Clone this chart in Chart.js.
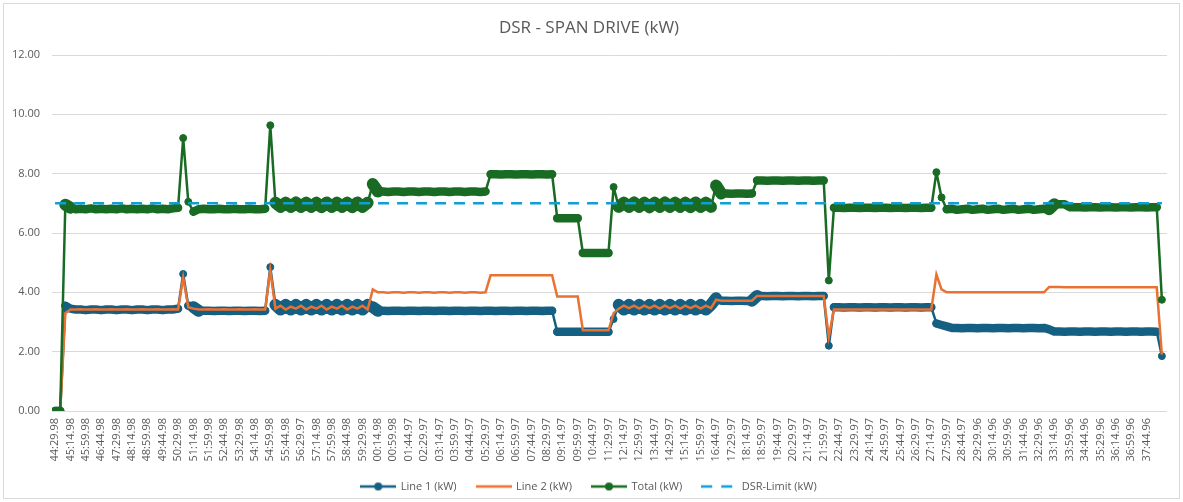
<!DOCTYPE html>
<html>
<head>
<meta charset="utf-8">
<title>DSR - SPAN DRIVE (kW)</title>
<script src="https://cdn.jsdelivr.net/npm/chart.js@4.4.1/dist/chart.umd.min.js"></script>
<style>
  html, body { margin: 0; padding: 0; background: #fff; }
  #wrap { position: relative; width: 1183px; height: 502px; }
  #frame { position: absolute; left: 3px; top: 3px; width: 1175px; height: 494px; border: 1px solid #d9d9d9; pointer-events: none; }
  canvas { position: absolute; left: 0; top: 0; }
</style>
</head>
<body>
<div id="wrap">
  <canvas id="chart-dsr" width="1183" height="502"></canvas>
  <div id="frame"></div>
</div>
<script>
// axis labels (one every 45 s), readings are every 15 s
const tickLabels = [
  "44:29.98","45:14.98","45:59.98","46:44.98","47:29.98","48:14.98","48:59.98","49:44.98","50:29.98","51:14.98",
  "51:59.98","52:44.98","53:29.98","54:14.98","54:59.98","55:44.98","56:29.97","57:14.98","57:59.98","58:44.98",
  "59:29.98","00:14.98","00:59.98","01:44.97","02:29.97","03:14.97","03:59.97","04:44.97","05:29.97","06:14.97",
  "06:59.97","07:44.97","08:29.97","09:14.97","09:59.97","10:44.97","11:29.97","12:14.97","12:59.97","13:44.97",
  "14:29.97","15:14.97","15:59.97","16:44.97","17:29.97","18:14.97","18:59.97","19:44.97","20:29.97","21:14.97",
  "21:59.97","22:44.97","23:29.97","24:14.97","24:59.97","25:44.97","26:29.97","27:14.97","27:59.97","28:44.97",
  "29:29.96","30:14.96","30:59.96","31:44.96","32:29.96","33:14.96","33:59.96","34:44.96","35:29.96","36:14.96",
  "36:59.96","37:44.96"
];
const samplesPerTick = 3;

const line1Kw = [
  0, 0, 3.55, 3.45, 3.42, 3.42, 3.4, 3.42, 3.42, 3.4,
  3.42, 3.42, 3.4, 3.42, 3.42, 3.4, 3.42, 3.42, 3.4, 3.42,
  3.42, 3.4, 3.42, 3.42, 3.45, 4.62, 3.55, 3.5, 3.38, 3.38,
  3.38, 3.37, 3.38, 3.38, 3.37, 3.38, 3.38, 3.37, 3.38, 3.38,
  3.37, 3.38, 4.85, 3.58, 3.42, 3.58, 3.42, 3.58, 3.42, 3.58,
  3.42, 3.58, 3.42, 3.58, 3.42, 3.58, 3.42, 3.58, 3.42, 3.58,
  3.42, 3.58, 3.5, 3.38, 3.38, 3.37, 3.38, 3.38, 3.37, 3.38,
  3.38, 3.37, 3.38, 3.38, 3.37, 3.38, 3.38, 3.37, 3.38, 3.38,
  3.37, 3.38, 3.38, 3.37, 3.38, 3.38, 3.37, 3.38, 3.38, 3.37,
  3.38, 3.38, 3.37, 3.38, 3.38, 3.37, 3.38, 3.38, 2.67, 2.67,
  2.67, 2.67, 2.67, 2.67, 2.67, 2.67, 2.67, 2.67, 2.67, 3.1,
  3.58, 3.42, 3.58, 3.42, 3.58, 3.42, 3.58, 3.42, 3.58, 3.42,
  3.58, 3.42, 3.58, 3.42, 3.58, 3.42, 3.58, 3.42, 3.58, 3.8,
  3.72, 3.72, 3.71, 3.72, 3.72, 3.71, 3.72, 3.88, 3.88, 3.87,
  3.88, 3.88, 3.87, 3.88, 3.88, 3.87, 3.88, 3.88, 3.87, 3.88,
  3.88, 2.2, 3.5, 3.5, 3.49, 3.5, 3.5, 3.49, 3.5, 3.5,
  3.49, 3.5, 3.5, 3.49, 3.5, 3.5, 3.49, 3.5, 3.5, 3.49,
  3.5, 3.5, 2.95, 2.9, 2.85, 2.8, 2.8, 2.79, 2.8, 2.8,
  2.79, 2.8, 2.8, 2.79, 2.8, 2.8, 2.79, 2.8, 2.8, 2.79,
  2.8, 2.8, 2.79, 2.8, 2.75, 2.68, 2.68, 2.67, 2.68, 2.68,
  2.67, 2.68, 2.68, 2.67, 2.68, 2.68, 2.67, 2.68, 2.68, 2.67,
  2.68, 2.68, 2.67, 2.68, 2.68, 2.67, 1.85
];

const line2Kw = [
  0, 0, 3.3, 3.42, 3.42, 3.43, 3.42, 3.42, 3.43, 3.42,
  3.42, 3.43, 3.42, 3.42, 3.43, 3.42, 3.42, 3.43, 3.42, 3.42,
  3.43, 3.42, 3.42, 3.43, 3.42, 4.5, 3.5, 3.45, 3.42, 3.42,
  3.43, 3.42, 3.42, 3.43, 3.42, 3.42, 3.43, 3.42, 3.42, 3.43,
  3.42, 3.42, 4.75, 3.45, 3.55, 3.42, 3.52, 3.45, 3.55, 3.42,
  3.52, 3.45, 3.55, 3.42, 3.52, 3.45, 3.55, 3.42, 3.52, 3.45,
  3.55, 3.42, 4.1, 4.0, 4.0, 3.99, 4.0, 4.0, 3.99, 4.0,
  4.0, 3.99, 4.0, 4.0, 3.99, 4.0, 4.0, 3.99, 4.0, 4.0,
  3.99, 4.0, 4.0, 3.99, 4.0, 4.58, 4.58, 4.58, 4.58, 4.58,
  4.58, 4.58, 4.58, 4.58, 4.58, 4.58, 4.58, 4.58, 3.86, 3.86,
  3.86, 3.86, 3.86, 2.72, 2.72, 2.72, 2.72, 2.72, 2.72, 3.3,
  3.45, 3.55, 3.47, 3.55, 3.45, 3.55, 3.47, 3.55, 3.45, 3.55,
  3.47, 3.55, 3.45, 3.55, 3.47, 3.55, 3.45, 3.55, 3.47, 3.75,
  3.72, 3.72, 3.72, 3.72, 3.72, 3.72, 3.72, 3.88, 3.88, 3.88,
  3.88, 3.88, 3.88, 3.88, 3.88, 3.88, 3.88, 3.88, 3.88, 3.88,
  3.88, 2.5, 3.42, 3.42, 3.42, 3.42, 3.42, 3.42, 3.42, 3.42,
  3.42, 3.42, 3.42, 3.42, 3.42, 3.42, 3.42, 3.42, 3.42, 3.42,
  3.42, 3.42, 4.6, 4.1, 4.0, 4.0, 4.0, 4.0, 4.0, 4.0,
  4.0, 4.0, 4.0, 4.0, 4.0, 4.0, 4.0, 4.0, 4.0, 4.0,
  4.0, 4.0, 4.0, 4.0, 4.18, 4.18, 4.18, 4.17, 4.17, 4.17,
  4.17, 4.17, 4.17, 4.17, 4.17, 4.17, 4.17, 4.17, 4.17, 4.17,
  4.17, 4.17, 4.17, 4.17, 4.17, 4.17, 1.9
];

const totalKw = [
  0, 0, 6.95, 6.85, 6.8, 6.82, 6.8, 6.83, 6.8, 6.82,
  6.8, 6.82, 6.8, 6.83, 6.8, 6.82, 6.8, 6.82, 6.8, 6.83,
  6.8, 6.82, 6.8, 6.83, 6.85, 9.2, 7.05, 6.72, 6.8, 6.82,
  6.8, 6.8, 6.82, 6.8, 6.8, 6.82, 6.8, 6.8, 6.82, 6.8,
  6.8, 6.82, 9.63, 7.02, 6.88, 7.02, 6.88, 7.03, 6.88, 7.02,
  6.88, 7.02, 6.87, 7.03, 6.88, 7.02, 6.88, 7.02, 6.87, 7.03,
  6.88, 7.02, 7.65, 7.4, 7.4, 7.38, 7.4, 7.4, 7.38, 7.4,
  7.4, 7.38, 7.4, 7.4, 7.38, 7.4, 7.4, 7.38, 7.4, 7.4,
  7.38, 7.4, 7.4, 7.38, 7.4, 7.98, 7.98, 7.97, 7.98, 7.98,
  7.97, 7.98, 7.98, 7.97, 7.98, 7.98, 7.97, 7.98, 6.5, 6.5,
  6.5, 6.5, 6.5, 5.33, 5.33, 5.33, 5.33, 5.33, 5.33, 7.55,
  6.88, 7.02, 6.88, 7.03, 6.88, 7.02, 6.87, 7.02, 6.88, 7.03,
  6.88, 7.02, 6.88, 7.02, 6.87, 7.03, 6.88, 7.02, 6.88, 7.6,
  7.33, 7.33, 7.32, 7.33, 7.33, 7.32, 7.33, 7.77, 7.77, 7.76,
  7.77, 7.77, 7.76, 7.77, 7.77, 7.76, 7.77, 7.77, 7.76, 7.77,
  7.77, 4.4, 6.85, 6.85, 6.84, 6.85, 6.85, 6.84, 6.85, 6.85,
  6.84, 6.85, 6.85, 6.84, 6.85, 6.85, 6.84, 6.85, 6.85, 6.84,
  6.85, 6.85, 8.05, 7.2, 6.8, 6.82, 6.78, 6.8, 6.82, 6.78,
  6.8, 6.82, 6.78, 6.8, 6.82, 6.78, 6.8, 6.82, 6.78, 6.8,
  6.82, 6.78, 6.8, 6.82, 6.8, 6.97, 6.97, 6.97, 6.87, 6.87,
  6.87, 6.86, 6.87, 6.87, 6.86, 6.87, 6.87, 6.86, 6.87, 6.87,
  6.86, 6.87, 6.87, 6.86, 6.87, 6.87, 3.75
];

const dsrLimitKw = 7.0;

const FONT = "'Open Sans', sans-serif";
const colors = { line1: '#156082', line2: '#E97132', total: '#196B24', limit: '#0F9ED5' };
const toPoints = arr => arr.map((v, i) => ({ x: i, y: v }));

// Excel packs the markers so tight they read as a thick band; thin line on the big jumps,
// wider where the reading flickers so the noise reads as a solid block
const JUMP = 0.3;
const markerBand = ctx => {
  const dy = Math.abs(ctx.p0.parsed.y - ctx.p1.parsed.y);
  if (dy > JUMP) return 2.5;
  return dy > 0.1 ? 12 : 8.5;
};
// markers only show up on the jumps / spikes
const jumpMarker = ctx => {
  const d = ctx.dataset.data, i = ctx.dataIndex;
  if (!d[i]) return 0;
  const y = d[i].y;
  const prev = d[i - 1] ? d[i - 1].y : y;
  const next = d[i + 1] ? d[i + 1].y : y;
  return (Math.abs(y - prev) > JUMP || Math.abs(y - next) > JUMP) ? 3.5 : 0;
};

// small line (+ marker) pictures for the legend, like the Excel legend keys
function legendIcon(color, marker, dash){
  const c = document.createElement('canvas');
  c.width = 36; c.height = 10;
  const g = c.getContext('2d');
  g.strokeStyle = color; g.lineWidth = 2.5;
  if (dash) g.setLineDash(dash);
  g.beginPath(); g.moveTo(0, 5); g.lineTo(36, 5); g.stroke();
  if (marker){
    g.fillStyle = color;
    g.beginPath(); g.arc(18, 5, 4, 0, Math.PI * 2); g.fill();
  }
  return c;
}
const legendIcons = [
  legendIcon(colors.line1, true),
  legendIcon(colors.line2, false),
  legendIcon(colors.total, true),
  legendIcon(colors.limit, false, [11, 9])
];

new Chart(document.getElementById('chart-dsr').getContext('2d'), {
  type: 'line',
  data: {
    datasets: [
      { label: 'Line 1 (kW)', data: toPoints(line1Kw), borderColor: colors.line1, backgroundColor: colors.line1,
        borderWidth: 2.5, pointRadius: jumpMarker, pointBorderWidth: 1, order: 4,
        borderJoinStyle: 'round', borderCapStyle: 'round', segment: { borderWidth: markerBand } },
      { label: 'Line 2 (kW)', data: toPoints(line2Kw), borderColor: colors.line2, backgroundColor: colors.line2,
        borderWidth: 2.5, pointRadius: 0, order: 3 },
      { label: 'Total (kW)', data: toPoints(totalKw), borderColor: colors.total, backgroundColor: colors.total,
        borderWidth: 2.5, pointRadius: jumpMarker, pointBorderWidth: 1, order: 2,
        borderJoinStyle: 'round', borderCapStyle: 'round', segment: { borderWidth: markerBand } },
      { label: 'DSR-Limit (kW)', data: [{ x: 0, y: dsrLimitKw }, { x: totalKw.length - 1, y: dsrLimitKw }],
        borderColor: colors.limit, backgroundColor: colors.limit, borderWidth: 2.5, borderDash: [11, 8], pointRadius: 0, order: 1 }
    ]
  },
  options: {
    responsive: false,
    animation: false,
    devicePixelRatio: 1,
    layout: { padding: { left: 11, right: 16, top: 0, bottom: 0 } },
    elements: { line: { tension: 0 } },
    plugins: {
      title: { display: true, text: 'DSR - SPAN DRIVE (kW)', color: '#595959',
        font: { family: FONT, size: 17, weight: 'normal' }, padding: { top: 18, bottom: 16.6 } },
      legend: {
        position: 'bottom',
        labels: {
          color: '#595959', font: { family: FONT, size: 11 }, padding: 20,
          usePointStyle: true, pointStyleWidth: 34,
          sort: (a, b) => a.datasetIndex - b.datasetIndex,
          generateLabels: chart => Chart.defaults.plugins.legend.labels.generateLabels(chart)
            .map(item => Object.assign(item, { pointStyle: legendIcons[item.datasetIndex] }))
        }
      },
      tooltip: { enabled: false }
    },
    scales: {
      x: {
        type: 'linear', min: -0.6, max: 217,
        grid: { display: false, drawTicks: false },
        border: { display: false },
        afterBuildTicks: scale => { scale.ticks = tickLabels.map((_, k) => ({ value: k * samplesPerTick })); },
        afterFit: scale => { scale.height = 50; },
        ticks: { autoSkip: false, minRotation: 90, maxRotation: 90, padding: 7, color: '#595959',
          font: { family: FONT, size: 11 }, callback: (v, k) => tickLabels[k] }
      },
      y: {
        min: 0, max: 12,
        afterFit: scale => { scale.width = 41; },
        grid: { color: '#d9d9d9', drawTicks: false },
        border: { display: false },
        ticks: { stepSize: 2, padding: 12, color: '#595959', font: { family: FONT, size: 11 },
          callback: v => v.toFixed(2) }
      }
    }
  }
});
</script>
</body>
</html>
